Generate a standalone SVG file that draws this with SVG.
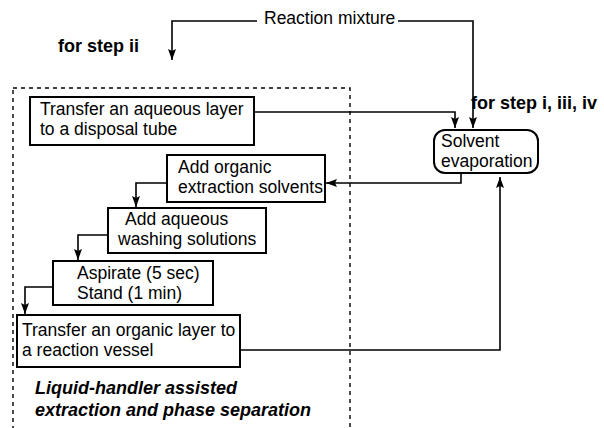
<svg xmlns="http://www.w3.org/2000/svg" width="604" height="428" viewBox="0 0 604 428">
<defs>
<marker id="ah" markerWidth="11" markerHeight="8" refX="11" refY="4" orient="auto" markerUnits="userSpaceOnUse" viewBox="0 0 11 8">
<path d="M0,0 L11,4 L0,8 L2,4 Z" fill="#000"/>
</marker>
</defs>
<style>
text{font-family:"Liberation Sans",Arial,sans-serif;font-size:17.5px;fill:#000}
.b{font-weight:bold;font-size:18px}
.bi{font-weight:bold;font-style:italic;font-size:18px}
.box{fill:#fff;stroke:#000;stroke-width:2}
.c{fill:none;stroke:#000;stroke-width:1.6}
</style>
<rect x="13" y="88" width="337" height="350" fill="none" stroke="#000" stroke-width="1.4" stroke-dasharray="4,4"/>
<text class="b" x="58" y="52">for step ii</text>
<text class="b" x="471" y="109">for step i, iii, iv</text>
<g id="connectors">
<path class="c" d="M257,21 H172 V60" marker-end="url(#ah)"/>
<path class="c" d="M398,21 H473 V128" marker-end="url(#ah)"/>
<path class="c" d="M254,112 H455 V128" marker-end="url(#ah)"/>
<path class="c" d="M461,173 V183 H326" marker-end="url(#ah)"/>
<path class="c" d="M167,183 H136 V207" marker-end="url(#ah)"/>
<path class="c" d="M108,235 H78 V260" marker-end="url(#ah)"/>
<path class="c" d="M53,287 H25 V314" marker-end="url(#ah)"/>
<path class="c" d="M240,350 H500 V177" marker-end="url(#ah)"/>
</g>
<g id="reaction"><text x="264" y="24">Reaction mixture</text></g>
<g id="n1"><rect class="box" x="30" y="97" width="224" height="48"/>
<text x="40" y="115">Transfer an aqueous layer</text><text x="40" y="135">to a disposal tube</text></g>
<g id="solvent"><rect class="box" x="434" y="130" width="104" height="43" rx="11"/>
<text x="441" y="147">Solvent</text><text x="441" y="167">evaporation</text></g>
<g id="n2"><rect class="box" x="167" y="155" width="158" height="47"/>
<text x="178" y="173">Add organic</text><text x="178" y="193">extraction solvents</text></g>
<g id="n3"><rect class="box" x="108" y="208" width="158" height="45"/>
<text x="125" y="225">Add aqueous</text><text x="118" y="245">washing solutions</text></g>
<g id="n4"><rect class="box" x="53" y="261" width="160" height="44"/>
<text x="77" y="279">Aspirate (5 sec)</text><text x="77" y="299">Stand (1 min)</text></g>
<g id="n5"><rect class="box" x="17" y="315" width="223" height="52"/>
<text x="22" y="336">Transfer an organic layer to</text><text x="22" y="356">a reaction vessel</text></g>
<g id="label"><text class="bi" x="35" y="394">Liquid-handler assisted</text><text class="bi" x="35" y="416">extraction and phase separation</text></g>
</svg>
